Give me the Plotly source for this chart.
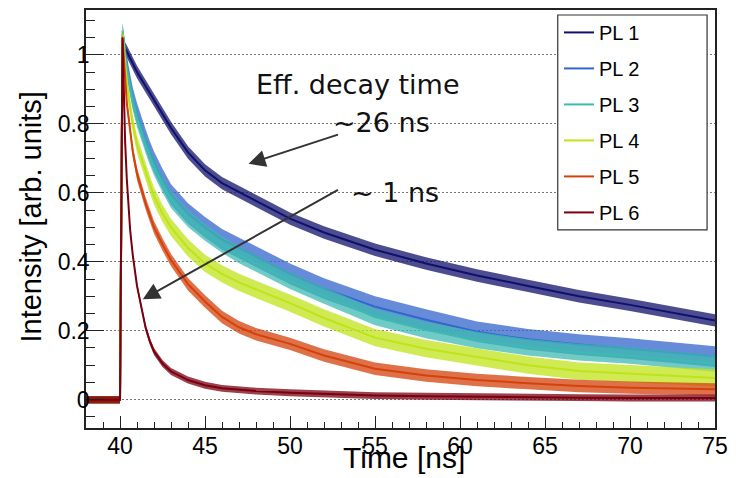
import plotly.graph_objects as go

# Sampling instants (ns) shared by all six photoluminescence traces
time_ns = [38.0, 40.0, 40.15, 40.3, 40.4, 40.5, 40.6, 40.75, 41.0, 41.25, 41.5,
           41.75, 42.0, 42.5, 43.0, 44.0, 45.0, 46.0, 47.0, 48.0, 50.0, 52.0,
           55.0, 58.0, 61.0, 64.0, 67.0, 70.0, 75.0]

# Normalised intensities (arb. units)
pl1 = [0.0, 0.0, 1.03, 1.02, 1.01, 1.0, 0.99, 0.975, 0.95, 0.93, 0.91,
       0.89, 0.87, 0.828, 0.788, 0.717, 0.665, 0.628, 0.602, 0.577, 0.525, 0.485,
       0.435, 0.395, 0.36, 0.33, 0.30, 0.275, 0.23]
pl2 = [0.0, 0.0, 1.06, 1.0, 0.97, 0.94, 0.91, 0.875, 0.83, 0.79, 0.755,
       0.72, 0.69, 0.64, 0.595, 0.54, 0.50, 0.465, 0.44, 0.415, 0.365, 0.322,
       0.27, 0.232, 0.197, 0.175, 0.16, 0.148, 0.125]
pl3 = [0.0, 0.0, 1.07, 1.0, 0.96, 0.93, 0.90, 0.865, 0.815, 0.775, 0.74,
       0.705, 0.675, 0.625, 0.58, 0.525, 0.485, 0.45, 0.42, 0.395, 0.345, 0.302,
       0.24, 0.202, 0.173, 0.152, 0.138, 0.128, 0.105]
pl4 = [0.0, 0.0, 1.06, 0.97, 0.92, 0.88, 0.845, 0.80, 0.74, 0.70, 0.66,
       0.625, 0.59, 0.54, 0.50, 0.44, 0.395, 0.365, 0.34, 0.32, 0.28, 0.237,
       0.18, 0.148, 0.123, 0.10, 0.083, 0.075, 0.063]
pl5 = [0.0, 0.0, 1.05, 0.92, 0.86, 0.82, 0.78, 0.72, 0.655, 0.61, 0.57,
       0.535, 0.50, 0.45, 0.405, 0.335, 0.285, 0.24, 0.21, 0.19, 0.162, 0.128,
       0.09, 0.07, 0.057, 0.048, 0.04, 0.035, 0.03]
pl6 = [0.0, 0.0, 1.05, 0.75, 0.64, 0.55, 0.49, 0.42, 0.33, 0.27, 0.21,
       0.17, 0.14, 0.105, 0.082, 0.057, 0.042, 0.033, 0.028, 0.025, 0.02, 0.016,
       0.012, 0.01, 0.008, 0.007, 0.006, 0.005, 0.005]

names = ["PL 1", "PL 2", "PL 3", "PL 4", "PL 5", "PL 6"]
curves = [pl1, pl2, pl3, pl4, pl5, pl6]
colors = ["#10106c", "#3366cc", "#3fb9b2", "#bfe31a", "#d4420c", "#7a0010"]
# half-width of the photon-counting noise band of each trace after the pulse
noise = [0.018, 0.03, 0.024, 0.025, 0.018, 0.01]
# smaller band on the pre-pulse baseline
baseline_noise = 0.011
PULSE_START = 40.1

FONT = "Liberation Sans, Arial, Helvetica, sans-serif"
NOTE_FONT = "DejaVu Sans, sans-serif"


def rgba(hex_color, alpha):
    h = hex_color.lstrip("#")
    r, g, b = int(h[0:2], 16), int(h[2:4], 16), int(h[4:6], 16)
    return f"rgba({r},{g},{b},{alpha})"


fig = go.Figure()
for name, vals, col, hw in zip(names, curves, colors, noise):
    widths = [hw if t >= PULSE_START else min(hw, baseline_noise) for t in time_ns]
    lower = [v - w for v, w in zip(vals, widths)]
    upper = [v + w for v, w in zip(vals, widths)]
    fig.add_trace(go.Scatter(x=time_ns, y=lower, mode="lines",
                             line=dict(width=0, color=col),
                             showlegend=False, hoverinfo="skip"))
    fig.add_trace(go.Scatter(x=time_ns, y=upper, mode="lines",
                             line=dict(width=0, color=col), fill="tonexty",
                             fillcolor=rgba(col, 0.75),
                             showlegend=False, hoverinfo="skip"))
    fig.add_trace(go.Scatter(x=time_ns, y=vals, mode="lines", name=name,
                             legendgroup=name,
                             line=dict(width=2, color=col)))

axis_common = dict(
    showline=True, linecolor="#222", linewidth=1.5, mirror=True,
    ticks="inside", tickcolor="#222", tickwidth=1, zeroline=False,
    tickfont=dict(family=FONT, size=23, color="black"),
)

fig.update_xaxes(
    range=[38, 75], dtick=5, tick0=0, ticklen=12, showgrid=False,
    minor=dict(dtick=1, ticks="inside", ticklen=6, tickcolor="#222"),
    ticklabelstandoff=-3,
    **axis_common,
)
fig.update_yaxes(
    range=[-0.082, 1.13], dtick=0.2, tick0=0, ticklen=18,
    showgrid=True, gridcolor="#777", gridwidth=1, griddash="2px,2px",
    minor=dict(dtick=0.05, ticks="inside", ticklen=9, tickcolor="#222"),
    ticklabelstandoff=-10,
    **axis_common,
)

note_font = dict(family=NOTE_FONT, size=27, color="#111")
annotations = [
    dict(text="Intensity [arb. units]", xref="paper", yref="paper",
         x=-0.088, y=0.505, xanchor="center", yanchor="middle",
         textangle=-90, showarrow=False,
         font=dict(family=FONT, size=29, color="black")),
    dict(text="Time [ns]", xref="paper", yref="paper", x=0.5055, y=-0.0714,
         xanchor="center", yanchor="middle", showarrow=False,
         font=dict(family=FONT, size=30, color="black")),
    dict(text="Eff. decay time", xref="x", yref="y", x=54.0, y=0.915,
         xanchor="center", yanchor="middle", showarrow=False, font=note_font),
    dict(text="~26 ns", xref="x", yref="y", x=55.4, y=0.805,
         xanchor="center", yanchor="middle", showarrow=False, font=note_font),
    dict(text="~ 1 ns", xref="x", yref="y", x=56.2, y=0.60,
         xanchor="center", yanchor="middle", showarrow=False, font=note_font),
    # arrows pointing at the slow (PL 1) and fast (PL 6) decays
    dict(x=47.56, y=0.684, ax=52.91, ay=0.770, xref="x", yref="y",
         axref="x", ayref="y", text="", showarrow=True, arrowhead=2,
         arrowsize=1.7, arrowwidth=2, arrowcolor="#333"),
    dict(x=41.34, y=0.291, ax=52.91, ay=0.611, xref="x", yref="y",
         axref="x", ayref="y", text="", showarrow=True, arrowhead=2,
         arrowsize=1.7, arrowwidth=2, arrowcolor="#333"),
]

fig.update_layout(
    width=736, height=478,
    margin=dict(l=86, r=14, t=8, b=50),
    paper_bgcolor="white", plot_bgcolor="white",
    font=dict(family=FONT, color="black"),
    annotations=annotations,
    shapes=[dict(type="rect", xref="paper", yref="paper",
                 x0=0.75, x1=0.9874, y0=0.4738, y1=0.988,
                 line=dict(color="#333", width=1.2), fillcolor="white",
                 layer="above")],
    legend=dict(x=0.752, y=0.993, xanchor="left", yanchor="top",
                bgcolor="rgba(0,0,0,0)", borderwidth=0,
                tracegroupgap=7,
                font=dict(family=FONT, size=20, color="black")),
    showlegend=True,
)

fig.write_html("out.html")
